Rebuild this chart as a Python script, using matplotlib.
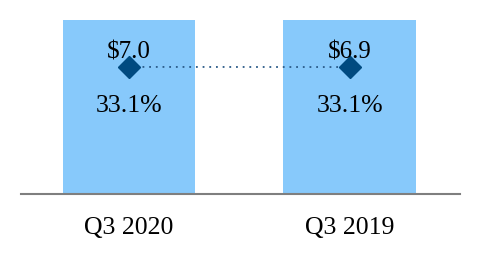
import matplotlib.pyplot as plt
import numpy as np

plt.rcParams['font.family'] = ['Liberation Serif', 'DejaVu Serif']

quarters = ["Q3 2020", "Q3 2019"]
revenue = [7.0, 6.9]          # $ values, shown as diamonds
margin = [33.1, 33.1]         # percentages, shown as bars

x = np.arange(len(quarters))

fig = plt.figure(figsize=(4.8, 2.6), dpi=100)
ax = fig.add_axes([0.044, 0.252, 0.914, 0.7096])

ax.bar(x, margin, width=0.6, color='#87C9FB', zorder=1)
ax.set_xlim(-0.49, 1.5)
ax.set_ylim(0, 35.0)

for s in ['top', 'right', 'left']:
    ax.spines[s].set_visible(False)
ax.spines['bottom'].set_color('#7f7f7f')
ax.spines['bottom'].set_linewidth(1.5)
ax.set_yticks([])
ax.set_xticks(x)
ax.set_xticklabels(quarters, fontsize=18.5)
ax.tick_params(axis='x', length=0, pad=16)

for xi, m in zip(x, margin):
    ax.text(xi, 16.8, f"{m:.1f}%", ha='center', va='center', fontsize=18.5)

# revenue on its own scale
ax2 = ax.twinx()
lo = -100
frac = 127.5 / 184.5
hi = lo + (np.mean(revenue) - lo) / frac
ax2.set_ylim(lo, hi)
ax2.axis('off')
ax2.plot(x, revenue, color='#2A5A88', lw=1.3, linestyle=(0, (1, 2.7)), zorder=2)
ax2.plot(x, revenue, 'D', color='#004A80', markersize=11, zorder=3)
for xi, r in zip(x, revenue):
    ax2.text(xi, r + 12.5, f"${r:.1f}", ha='center', va='center', fontsize=18)

plt.savefig("out.png", dpi=100)
plt.close()
